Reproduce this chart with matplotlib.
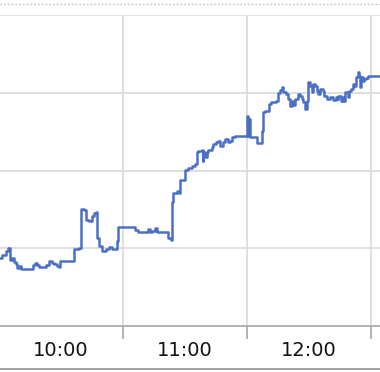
import matplotlib
matplotlib.use("Agg")
import matplotlib.pyplot as plt
from matplotlib.lines import Line2D

# minutes after 10:00
minutes = [0, 1.5, 3.4, 4.4, 5.3, 6.3, 7.3, 8.3, 8.7, 9.7, 10.7, 16.5, 17.5, 18.5, 19.4,
           22.8, 24.3, 25.8, 26.7, 28.2, 29.2, 29.6, 36.4, 38.9, 39.8, 41.3, 42.3, 43.5,
           45.2, 46.2, 46.8, 47.6, 48.6, 50.0, 52.0, 53.4, 54.9, 56.9, 57.8, 65.6, 67.1,
           71.9, 72.9, 73.9, 75.3, 76.3, 81.6, 83.1, 83.6, 84.1, 86.0, 87.0, 87.5, 89.9,
           91.4, 93.3, 94.8, 95.7, 96.2, 98.2, 98.6, 98.9, 99.6, 100.6, 101.1, 103.0,
           103.5, 105.0, 105.9, 106.9, 108.4, 109.3, 110.8, 111.8, 112.7, 114.2, 120.0,
           120.4, 120.8, 121.5, 124.9, 127.3, 127.8, 128.8, 130.7, 131.7, 134.1, 135.1,
           136.1, 137.0, 137.5, 139.0, 139.9, 140.9, 141.9, 142.4, 143.3, 144.8, 145.8,
           146.7, 147.2, 148.2, 149.2, 149.7, 150.6, 151.6, 152.1, 153.1, 154.0, 154.5,
           155.5, 156.5, 157.4, 158.9, 160.3, 161.8, 162.8, 163.8, 164.2, 165.2, 166.2,
           166.7, 167.6, 168.6, 169.1, 170.1, 171.0, 171.5, 172.5, 173.5, 174.0, 174.4,
           174.9, 175.9, 176.4, 177.4, 178.3, 184.6]
values = [104.39, 104.58, 104.84, 105.03, 104.26, 104.39, 104.13, 104.00, 103.74, 103.87,
          103.68, 103.94, 104.06, 103.94, 103.81, 103.94, 104.19, 104.06, 104.00, 103.87,
          103.81, 104.19, 104.97, 105.03, 107.55, 107.48, 106.84, 106.77, 107.10, 107.29,
          107.35, 105.68, 105.16, 104.84, 104.97, 105.10, 104.97, 105.48, 106.39, 106.19,
          106.06, 106.26, 106.06, 106.13, 106.32, 106.06, 105.68, 105.55, 108.00, 108.58,
          108.71, 108.58, 109.42, 110.06, 110.19, 110.26, 110.39, 111.16, 111.23, 111.35,
          110.58, 111.16, 110.90, 111.16, 111.35, 111.48, 111.68, 111.81, 111.87, 111.55,
          111.81, 112.00, 111.81, 111.87, 112.13, 112.19, 113.48, 112.19, 113.30, 112.13,
          111.74, 112.52, 113.74, 113.81, 114.26, 114.39, 114.45, 114.97, 115.16, 115.35,
          115.03, 114.90, 114.58, 114.13, 114.45, 114.19, 114.58, 114.90, 114.77, 114.58,
          114.39, 113.94, 114.45, 115.68, 115.42, 115.03, 115.55, 115.42, 115.10, 114.90,
          115.23, 115.10, 114.77, 114.58, 114.71, 114.52, 114.71, 114.58, 114.77, 114.45,
          114.71, 114.45, 115.03, 114.71, 115.10, 115.23, 115.55, 115.42, 116.00, 116.32,
          116.06, 115.35, 116.00, 115.74, 115.87, 115.94, 116.06, 116.06]

gridline_minutes = [60, 120, 180]
label_minutes = [0, 60, 120]
tick_labels = ["10:00", "11:00", "12:00"]
y_grid = [105, 110, 115, 120]

W, H = 380, 372
fig = plt.figure(figsize=(W / 100, H / 100), dpi=100)
ax = fig.add_axes([0, (H - 326) / H, 1, (326 - 15) / H])
ax.set_xlim(0.5, 184.3)
ax.set_ylim(100, 120)

ax.plot(minutes, values, drawstyle="steps-post", color="#4a70c6", lw=1.8, zorder=3)

for g in y_grid:
    ax.axhline(g, color="#d9d9d9", lw=1.2, zorder=1)
for g in gridline_minutes:
    ax.axvline(g, color="#d9d9d9", lw=1.2, zorder=1)

for s in ["top", "left", "right"]:
    ax.spines[s].set_visible(False)
ax.spines["bottom"].set_color("#a6a6a6")
ax.spines["bottom"].set_linewidth(1.2)
ax.set_yticks([])
ax.set_xticks(gridline_minutes)
ax.set_xticklabels([])
ax.tick_params(axis="x", which="major", length=9, width=1.2, color="#a6a6a6", direction="out")
ax.set_xticks([m + 30 for m in label_minutes], minor=True)
ax.set_xticklabels(tick_labels, minor=True)
ax.tick_params(axis="x", which="minor", length=0, pad=11, labelsize=14, labelcolor="#111111")

# chart border decorations
fig.add_artist(Line2D([0, 1], [1 - 3.5 / H, 1 - 3.5 / H], color="#c0c0c0", lw=1.0,
                      linestyle=(0, (1.2, 1.5)), transform=fig.transFigure))
fig.add_artist(Line2D([0, 1], [1 - 368.5 / H, 1 - 368.5 / H], color="#9a9a9a", lw=1.3,
                      transform=fig.transFigure))

fig.savefig("out.png", dpi=100)
